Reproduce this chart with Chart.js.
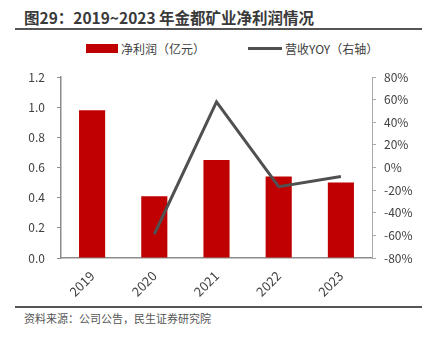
<!DOCTYPE html>
<html>
<head>
<meta charset="utf-8">
<script src="https://cdn.jsdelivr.net/npm/chart.js@4.4.1/dist/chart.umd.min.js"></script>
<style>
  body { margin: 0; background: #fff; font-family: "Noto Sans CJK SC", "Noto Sans", sans-serif; }
  #wrap { position: relative; width: 437px; height: 338px; overflow: hidden; }
  .title { position: absolute; left: 24px; top: 6px; font-size: 15.5px; font-weight: bold; color: #3a3a3a; white-space: nowrap; }
  .rule { position: absolute; left: 15px; width: 407px; height: 1.5px; background: #555; }
  .legend { position: absolute; top: 38px; font-size: 12px; color: #404040; white-space: nowrap; }
  .legend span { display: inline-block; vertical-align: middle; }
  .note { position: absolute; left: 24px; top: 310px; font-size: 11px; color: #555; white-space: nowrap; }
  #box { position: absolute; left: 0; top: 56px; width: 437px; height: 250px; }
</style>
</head>
<body>
<div id="wrap">
  <div class="title">图29：2019~2023 年金都矿业净利润情况</div>
  <div class="rule" style="top:28px"></div>
  <div class="legend" style="left:86px"><span style="width:32px;height:9px;background:#C00000;margin-right:3px"></span><span>净利润（亿元）</span></div>
  <div class="legend" style="left:248px"><span style="width:34px;height:3px;background:#505050;margin-right:3px"></span><span>营收YOY（右轴）</span></div>
  <div id="box"><canvas id="grafico"></canvas></div>
  <div class="rule" style="top:306px"></div>
  <div class="note">资料来源：公司公告，民生证券研究院</div>
</div>
<script>
// datos del grafico
var anios = ['2019', '2020', '2021', '2022', '2023'];
var utilidadNeta = [0.98, 0.41, 0.65, 0.54, 0.50];   // 亿元
var ingresoYoy = [null, -59, 58, -17, -8];            // %
var ticksIzq = [0, 0.2, 0.4, 0.6, 0.8, 1.0, 1.2];
var ticksDer = [-80, -60, -40, -20, 0, 20, 40, 60, 80];

var fuente = { family: '"Noto Sans CJK SC", "Noto Sans", sans-serif', size: 12 };
var colorTexto = '#404040';
var colorEje = '#8c8c8c';

function dibujarGrafico(){
    var ctx = document.getElementById('grafico');
    new Chart(ctx, {
        data: {
            labels: anios,
            datasets: [{
                type: 'line',
                label: '营收YOY（右轴）',
                data: ingresoYoy,
                yAxisID: 'y1',
                borderColor: '#505050',
                borderWidth: 3,
                pointRadius: 0,
                tension: 0,
                order: 0
            }, {
                type: 'bar',
                label: '净利润（亿元）',
                data: utilidadNeta,
                yAxisID: 'y',
                backgroundColor: '#C00000',
                categoryPercentage: 0.84,
                barPercentage: 0.5,
                order: 1
            }]
        },
        options: {
            responsive: true,
            maintainAspectRatio: false,
            animation: false,
            layout: { padding: { top: 21, left: 0, right: 0, bottom: 0 } },
            plugins: { legend: { display: false }, tooltip: { enabled: false } },
            scales: {
                x: {
                    grid: { display: false, offset: true, drawTicks: true, tickLength: 5, color: colorEje },
                    border: { color: colorEje, width: 1.5 },
                    ticks: { color: colorTexto, font: { family: fuente.family, size: 13 }, minRotation: 45, maxRotation: 45, padding: 5 },
                    afterFit: function(s){ s.height = 48; }
                },
                y: {
                    position: 'left',
                    min: 0, max: 1.2,
                    afterBuildTicks: function(s){ s.ticks = ticksIzq.map(function(v){ return { value: v }; }); },
                    grid: { display: true, drawOnChartArea: false, tickLength: 4, color: colorEje },
                    border: { color: colorEje, width: 1.5 },
                    ticks: { color: colorTexto, font: fuente, padding: 12,
                        callback: function(v){ return v.toFixed(1); } },
                    afterFit: function(s){ s.width = 61; }
                },
                y1: {
                    position: 'right',
                    min: -80, max: 80,
                    afterBuildTicks: function(s){ s.ticks = ticksDer.map(function(v){ return { value: v }; }); },
                    grid: { display: true, drawOnChartArea: false, tickLength: 4, color: '#aaaaaa' },
                    border: { color: '#aaaaaa', width: 1 },
                    ticks: { color: colorTexto, font: fuente, padding: 8,
                        callback: function(v){ return v + '%'; } },
                    afterFit: function(s){ s.width = 65; }
                }
            }
        }
    });
}

dibujarGrafico();
</script>
</body>
</html>
